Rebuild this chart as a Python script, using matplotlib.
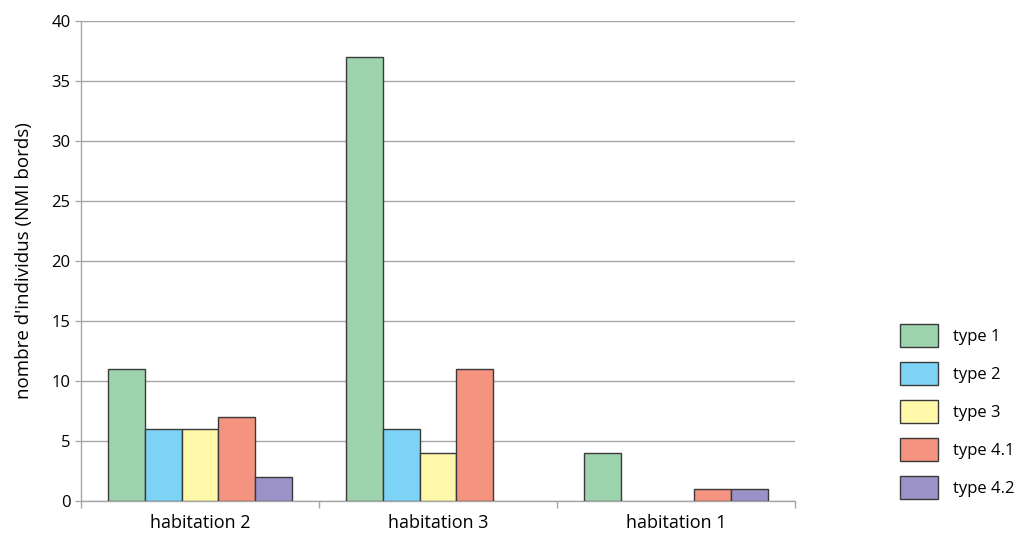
import numpy as np
import matplotlib.pyplot as plt
from matplotlib.patches import Patch

## data
groups = ['habitation 2', 'habitation 3', 'habitation 1']
types = ['type 1', 'type 2', 'type 3', 'type 4.1', 'type 4.2']
values = {
    'type 1':   [11, 37, 4],
    'type 2':   [6, 6, 0],
    'type 3':   [6, 4, 0],
    'type 4.1': [7, 11, 1],
    'type 4.2': [2, 0, 1],
}
colors = ['#9dd3ad', '#7dd3f5', '#fff8a8', '#f4937f', '#9b93c8']

plt.rcParams['font.family'] = ['Open Sans', 'DejaVu Sans']

fig = plt.figure(figsize=(10.18, 5.33), dpi=100)
ax = fig.add_axes([81 / 1018, 1 - 501 / 533, 714 / 1018, 480 / 533])

x = np.arange(len(groups))
w = 0.154
for i, t in enumerate(types):
    v = np.array(values[t], dtype=float)
    keep = v > 0  # empty bars are not drawn
    ax.bar(x[keep] + (i - 2) * w, v[keep], width=w, color=colors[i],
           edgecolor='#3a3a3a', linewidth=1.0, zorder=3)

ax.set_xlim(-0.5, 2.5)
ax.set_ylim(0, 40)
ax.set_yticks(np.arange(0, 41, 5))
ax.yaxis.grid(True, color='#a6a6a6', linewidth=1.0, zorder=0)
ax.set_axisbelow(True)

# category labels centred, tick marks between groups
ax.set_xticks([-0.5, 0.5, 1.5, 2.5])
ax.set_xticklabels([])
ax.set_xticks(x, minor=True)
ax.set_xticklabels(groups, minor=True, fontsize=13)
ax.tick_params(axis='x', which='minor', length=0, pad=9)
ax.tick_params(axis='x', which='major', length=5, color='#a6a6a6', width=1)
ax.tick_params(axis='y', length=4, color='#a6a6a6', width=1, labelsize=12, pad=3.5)

for s in ['top', 'right']:
    ax.spines[s].set_visible(False)
for s in ['left', 'bottom']:
    ax.spines[s].set_color('#a6a6a6')
    ax.spines[s].set_linewidth(1.0)

ax.set_ylabel("nombre d'individus (NMI bords)", fontsize=13.5, labelpad=13)

handles = [Patch(facecolor=colors[i], edgecolor='#3a3a3a', linewidth=1.0)
           for i in range(len(types))]
fig.legend(handles, types, loc='upper left', bbox_to_anchor=(900 / 1018, 1 - 324 / 533),
           frameon=False, fontsize=12, handlelength=2.28, handleheight=1.74,
           labelspacing=0.9, handletextpad=0.9, borderaxespad=0, borderpad=0)

fig.savefig('out.png', dpi=100)
